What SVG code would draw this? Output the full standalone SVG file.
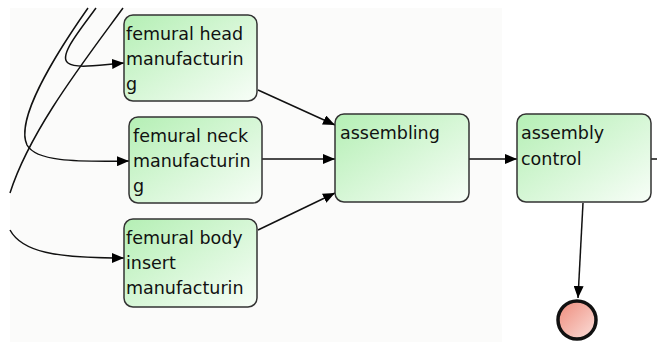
<svg xmlns="http://www.w3.org/2000/svg" width="657" height="342" viewBox="0 0 657 342">
<defs>
<linearGradient id="g" x1="0" y1="0" x2="1" y2="1">
<stop offset="0" stop-color="#b4efb4"/>
<stop offset="1" stop-color="#f8fef8"/>
</linearGradient>
<linearGradient id="r" x1="0" y1="0" x2="1" y2="1">
<stop offset="0" stop-color="#ee8a7a"/>
<stop offset="1" stop-color="#fbe0db"/>
</linearGradient>
<marker id="a" viewBox="0 0 12 10" refX="12" refY="5" markerWidth="12" markerHeight="10" markerUnits="userSpaceOnUse" orient="auto">
<path d="M0,0 L12,5 L0,10 Z" fill="#000"/>
</marker>
<style>
.n{fill:url(#g);stroke:#333;stroke-width:1.5}
.t{font-family:"DejaVu Sans",Verdana,sans-serif;font-size:17.5px;fill:#111}
.e{fill:none;stroke:#111;stroke-width:1.5;marker-end:url(#a)}
.l{fill:none;stroke:#111;stroke-width:1.5}
</style>
</defs>
<rect x="0" y="0" width="657" height="342" fill="#fff"/>
<rect x="10" y="8" width="492" height="334" fill="#fbfbfa"/>
<g id="connectors">
<path class="e" d="M96,8 C80,30 58,56 68,63 C76,69 98,65 124,63"/>
<path class="e" d="M88,8 C55,55 15,120 27,145 C36,161 72,162 129,161"/>
<path class="l" d="M123,8 C85,60 30,130 10,193"/>
<path class="e" d="M10,230 C22,252 55,258 124,258"/>
<path class="e" d="M258,90 L335,125"/>
<path class="e" d="M262,159 L335,159"/>
<path class="e" d="M258,230 L335,193"/>
<path class="e" d="M469,159 L517,159"/>
<path class="e" d="M583,203 L578,298"/>
<path class="l" d="M651,159 L657,159"/>
</g>
<g id="head">
<rect class="n" x="124" y="15" width="133" height="86" rx="9"/>
<text class="t" x="126" y="40">femural head</text>
<text class="t" x="126" y="65">manufacturin</text>
<text class="t" x="126" y="90">g</text>
</g>
<g id="neck">
<rect class="n" x="129" y="117" width="133" height="86" rx="9"/>
<text class="t" x="133" y="142">femural neck</text>
<text class="t" x="133" y="167">manufacturin</text>
<text class="t" x="133" y="192">g</text>
</g>
<g id="body">
<rect class="n" x="124" y="219" width="133" height="88" rx="9"/>
<text class="t" x="126" y="244">femural body</text>
<text class="t" x="126" y="269">insert</text>
<text class="t" x="126" y="294">manufacturin</text>
</g>
<g id="assembling">
<rect class="n" x="335" y="114" width="134" height="88" rx="9"/>
<text class="t" x="340" y="139">assembling</text>
</g>
<g id="control">
<rect class="n" x="517" y="114" width="134" height="88" rx="9"/>
<text class="t" x="521" y="139">assembly</text>
<text class="t" x="521" y="165">control</text>
</g>
<g id="end">
<circle cx="577" cy="320" r="19" fill="url(#r)" stroke="#111" stroke-width="3.5"/>
</g>
</svg>
